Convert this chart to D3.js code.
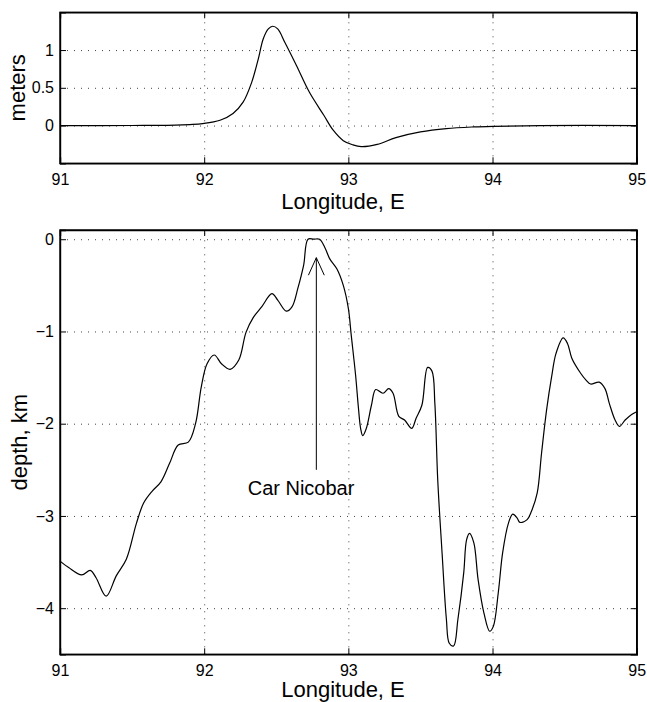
<!DOCTYPE html>
<html lang="en">
<head>
<meta charset="utf-8">
<title>Wave and depth profile, Car Nicobar</title>
<script src="https://d3js.org/d3.v7.min.js"></script>
<style>
  body { margin: 0; background: #fff; }
  svg { font-family: "Liberation Sans", Arial, Helvetica, sans-serif; }
  .grid line { stroke: #444; stroke-dasharray: 1,6; }
  .grid path { display: none; }
  .ax path, .ax line { stroke: #000; }
  .ax text { font-size: 16px; fill: #000; }
</style>
</head>
<body>
<div id="chart"></div>
<script>

// longitude ticks shared by both panels
var lonTicks = [91, 92, 93, 94, 95];

// top panel: sea surface, meters
var waveLon = [91.0, 91.5, 91.8, 91.9, 91.99, 92.11, 92.2, 92.27, 92.33, 92.375, 92.41, 92.445, 92.475,
  92.51, 92.56, 92.64, 92.73, 92.83, 92.895, 92.965, 93.03, 93.09, 93.2, 93.33, 93.5, 93.68, 93.87,
  94.0, 94.33, 95.0];
var waveH = [0, 0.001, 0.005, 0.013, 0.026, 0.07, 0.16, 0.31, 0.575, 0.88, 1.15, 1.28, 1.315,
  1.28, 1.1, 0.795, 0.44, 0.136, -0.062, -0.2, -0.255, -0.28, -0.25, -0.16, -0.084, -0.04, -0.018,
  -0.01, 0, 0];
var waveTicks = [0, 0.5, 1];

// bottom panel: bathymetry, km
var depthLon = [91.0, 91.06, 91.15, 91.21, 91.25, 91.32, 91.39, 91.46, 91.53, 91.58, 91.64, 91.7,
  91.76, 91.82, 91.89, 91.94, 91.98, 92.02, 92.07, 92.12, 92.18, 92.24, 92.29, 92.34, 92.4, 92.47,
  92.51, 92.57, 92.61, 92.65, 92.69, 92.72, 92.76, 92.8, 92.84, 92.87, 92.92, 92.965, 93.0, 93.02,
  93.05, 93.07, 93.085, 93.1, 93.125, 93.16, 93.19, 93.24, 93.28, 93.31, 93.35, 93.39, 93.44, 93.47,
  93.51, 93.55, 93.58, 93.6, 93.62, 93.65, 93.68, 93.7, 93.73, 93.76, 93.8, 93.82, 93.84, 93.87,
  93.9, 93.94, 93.98, 94.005, 94.04, 94.07, 94.11, 94.14, 94.17, 94.19, 94.24, 94.27, 94.31, 94.34,
  94.375, 94.41, 94.44, 94.49, 94.52, 94.55, 94.61, 94.65, 94.68, 94.74, 94.78, 94.81, 94.85, 94.88,
  94.92, 94.965, 95.0];
var depthKm = [-3.49, -3.56, -3.64, -3.59, -3.67, -3.87, -3.65, -3.47, -3.08, -2.86, -2.73, -2.63,
  -2.43, -2.23, -2.2, -2.0, -1.6, -1.35, -1.255, -1.35, -1.41, -1.31, -1.01, -0.85, -0.73, -0.59,
  -0.66, -0.78, -0.73, -0.53, -0.28, 0.0, 0.0, 0.0, -0.1, -0.21, -0.32, -0.5, -0.75, -1.04,
  -1.47, -1.83, -2.05, -2.13, -2.05, -1.8, -1.63, -1.67, -1.62, -1.67, -1.92, -1.96, -2.05, -1.94,
  -1.8, -1.39, -1.43, -1.78, -2.61, -3.4, -4.12, -4.38, -4.41, -4.12, -3.62, -3.26, -3.19, -3.29,
  -3.69, -4.05, -4.25, -4.2, -3.83, -3.4, -3.08, -2.98, -3.02, -3.07, -3.04, -2.95, -2.75, -2.32,
  -1.85, -1.49, -1.24, -1.07, -1.13, -1.29, -1.45, -1.53, -1.57, -1.55, -1.62, -1.78, -1.96, -2.03,
  -1.96, -1.9, -1.87];
var depthTicks = [0, -1, -2, -3, -4];

// annotation
var noteText = "Car Nicobar";
var noteLon = 92.778;

var W = 647, H = 702;
var left = 60, right = 636.7;

var svg = d3.select("#chart").append("svg")
    .attr("width", W)
    .attr("height", H);

var x = d3.scaleLinear().domain([91, 95]).range([left, right]);

// draw one MATLAB-style panel, returns its y scale
var panel = function(top, bottom, ydom, yticks, xs, ys, ylab, ylabX, xlabY) {
  var y = d3.scaleLinear().domain(ydom).range([bottom, top]);
  var w = right - left, h = bottom - top;

  // dotted grid
  svg.append("g").attr("class", "grid")
      .attr("transform", "translate(0," + bottom + ")")
      .call(d3.axisBottom(x).tickValues(lonTicks.slice(1, -1)).tickSize(-h).tickFormat(""));
  svg.append("g").attr("class", "grid")
      .attr("transform", "translate(" + left + ",0)")
      .call(d3.axisLeft(y).tickValues(yticks).tickSize(-w).tickFormat(""));

  // the curve
  var pts = xs.map(function(d, i) { return [d, ys[i]]; });
  svg.append("path")
      .datum(pts)
      .attr("fill", "none")
      .attr("stroke", "#000")
      .attr("stroke-width", 1.2)
      .attr("d", d3.line()
        .x(function(d) { return x(d[0]); })
        .y(function(d) { return y(d[1]); })
        .curve(d3.curveCatmullRom.alpha(0.5)));

  // axes with inward ticks on all four sides
  svg.append("g").attr("class", "ax")
      .attr("transform", "translate(0," + bottom + ")")
      .call(d3.axisBottom(x).tickValues(lonTicks).tickSize(-6).tickPadding(10).tickFormat(d3.format("d")));
  svg.append("g").attr("class", "ax")
      .attr("transform", "translate(0," + top + ")")
      .call(d3.axisTop(x).tickValues(lonTicks).tickSize(-6).tickFormat(""));
  svg.append("g").attr("class", "ax")
      .attr("transform", "translate(" + left + ",0)")
      .call(d3.axisLeft(y).tickValues(yticks).tickSize(-6).tickPadding(6).tickFormat(d3.format("~g")));
  svg.append("g").attr("class", "ax")
      .attr("transform", "translate(" + right + ",0)")
      .call(d3.axisRight(y).tickValues(yticks).tickSize(-6).tickFormat(""));
  svg.selectAll(".ax .domain").attr("stroke-width", 1.4);

  // box
  svg.append("rect")
      .attr("x", left).attr("y", top)
      .attr("width", w).attr("height", h)
      .attr("fill", "none").attr("stroke", "#000").attr("stroke-width", 1.4);

  svg.append("text")
      .attr("x", 343).attr("y", xlabY)
      .attr("text-anchor", "middle")
      .style("font-size", "22px")
      .text("Longitude, E");
  svg.append("text")
      .attr("transform", "translate(" + ylabX + "," + ((top + bottom) / 2) + ") rotate(-90)")
      .attr("text-anchor", "middle")
      .style("font-size", "22px")
      .text(ylab);
  return y;
};

panel(12.3, 163.3, [-0.5, 1.5], waveTicks, waveLon, waveH, "meters", 25, 209);
var yd = panel(230, 654.3, [-4.5, 0.1], depthTicks, depthLon, depthKm, "depth, km", 26.5, 697);

// arrow pointing at Car Nicobar
svg.append("line")
    .attr("x1", x(noteLon)).attr("x2", x(noteLon))
    .attr("y1", yd(-2.5)).attr("y2", yd(-0.2))
    .attr("stroke", "#000").attr("stroke-width", 1);
svg.append("path")
    .attr("d", d3.line()([[x(noteLon - 0.055), yd(-0.39)], [x(noteLon), yd(-0.2)], [x(noteLon + 0.055), yd(-0.39)]]))
    .attr("fill", "none").attr("stroke", "#000").attr("stroke-width", 1);
svg.append("text")
    .attr("x", x(92.672)).attr("y", yd(-2.77))
    .attr("text-anchor", "middle")
    .style("font-size", "20px")
    .text(noteText);

</script>
</body>
</html>
